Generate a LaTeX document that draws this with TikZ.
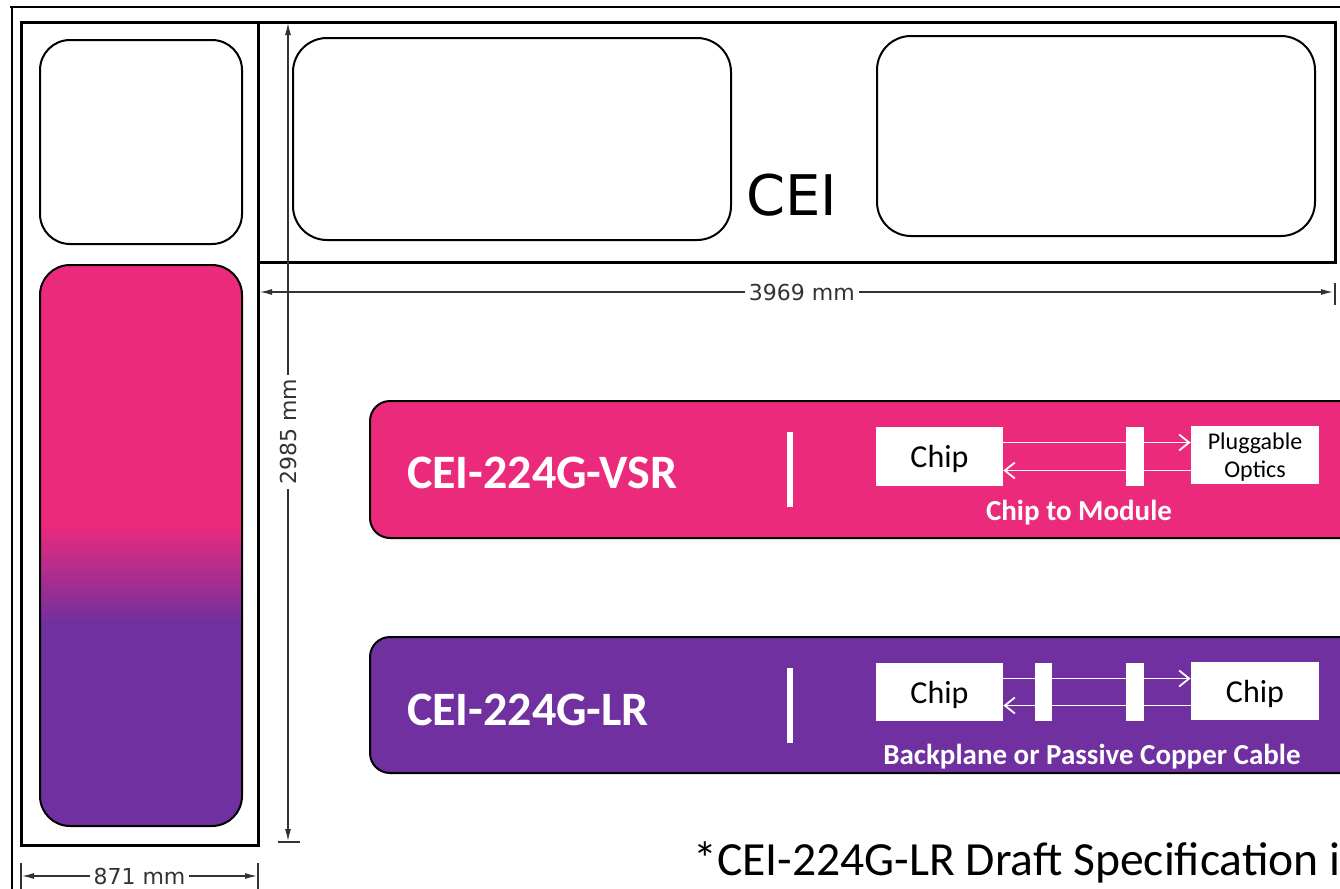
\documentclass[tikz,border=0pt]{standalone}
\usepackage{fontspec}
\setmainfont{Carlito}
\newfontfamily\dimfont{DejaVu Sans}
\usepackage{tikz}
\usetikzlibrary{arrows.meta, positioning, calc}

\definecolor{vsrpink}{RGB}{236,42,123}
\definecolor{lrpurple}{RGB}{112,48,160}
\pgfdeclareverticalshading{cable}{100bp}{color(0bp)=(lrpurple); color(43bp)=(lrpurple); color(52bp)=(vsrpink); color(100bp)=(vsrpink)}

\begin{document}
\begin{tikzpicture}[
  x=0.5pt, y=-0.5pt,
  frame/.style={draw, line width=1.4pt},
  slot/.style={draw, line width=1pt, rounded corners=15pt, fill=white, inner sep=0pt},
  banner/.style={draw, line width=1pt, rounded corners=10pt, minimum width=500pt, inner sep=0pt},
  title/.style={anchor=west, text=white, font=\fontsize{24}{28}\selectfont\bfseries},
  caption/.style={text=white, font=\fontsize{14.5}{17}\selectfont\bfseries},
  divider/.style={fill=white, minimum width=2.8pt, minimum height=37.5pt, inner sep=0pt},
  box/.style={fill=white, minimum width=63.5pt, minimum height=29.5pt, inner sep=0pt, text depth=0pt, font=\fontsize{16}{19}\selectfont},
  bar/.style={fill=white, minimum width=9pt, minimum height=29.5pt, inner sep=0pt},
  sig/.style={white, line width=0.9pt},
  sigarrow/.style={sig, -{Straight Barb[length=5pt, width=8pt, line width=0.9pt]}},
  dim/.style={line width=0.6pt, black!80, {Latex[length=6pt, width=3pt]}-{Latex[length=6pt, width=3pt]}},
  dimtick/.style={line width=0.6pt, black!80},
  dimlabel/.style={fill=white, inner sep=2pt, font=\dimfont\fontsize{11}{13}\selectfont},
]
\useasboundingbox (0,0) rectangle (1340,889);
\clip (0,0) rectangle (1340,889);

%% Frame
\draw[frame] (10,7) -- (1345,7);
\draw[frame] (12,7) -- (12,895);
\node[frame, line width=1.5pt, minimum width=118.5pt, minimum height=411.5pt, inner sep=0pt] (col) at (139.5,433.5) {};
\node[frame, line width=1.5pt, minimum width=538.5pt, minimum height=120pt, inner sep=0pt] (top) at (796.5,142) {};

%% Slots
\node[slot, minimum width=101pt, minimum height=102pt] (slotA) at (141,142) {};
\node[slot, shade, shading=cable, minimum width=101pt, minimum height=280.5pt] (slotB) at (141,545.5) {};
\node[slot, rounded corners=17pt, minimum width=219pt, minimum height=101pt] (slotC) at (512,139) {};
\node[slot, rounded corners=17pt, minimum width=219pt, minimum height=100pt] (slotD) at (1096,136) {};
\node[font=\dimfont\fontsize{28}{32}\selectfont] (cei) at (792,195) {CEI};

%% Dimensions
\coordinate (w1) at (260,292);
\coordinate (w2) at (1333,292);
\draw[dim] (w1) -- (w2) node[dimlabel, pos=0.505] {3969 mm};
\draw[dimtick] (1335,283) -- (1335,305);
\coordinate (h1) at (288,23);
\coordinate (h2) at (288,841);
\draw[dim] (h1) -- (h2) node[dimlabel, rotate=90, pos=0.50] {2985 mm};
\draw[dimtick] (278,842) -- (300,842);
\coordinate (c1) at (22,876);
\coordinate (c2) at (257,876);
\draw[dim] (c1) -- (c2) node[dimlabel, midway] {871 mm};
\draw[dimtick] (21,863) -- (21,892);
\draw[dimtick] (258,863) -- (258,892);

%% CEI-224G-VSR
\node[banner, fill=vsrpink, minimum height=68.5pt] (vsr) at (870,469.5) {};
\node[title] (vsrname) at (400,473) {CEI-224G-VSR};
\node[divider] (vsrdiv) at (790,469.5) {};
\node[box] (chipA) at (939.5,456.5) {Chip};
\node[bar] (barA) at (1135,456.5) {};
\node[box, minimum width=64pt, minimum height=29pt, font=\fontsize{12}{14}\selectfont, align=center] (plugA) at (1255,455) {Pluggable\\Optics};
\node[caption] (vsrcap) at (1079,513) {Chip to Module};
\draw[sig] ([yshift=7pt]chipA.east) -- ([yshift=7pt]barA.west);
\draw[sigarrow] ([yshift=7pt]barA.east) -- ([yshift=7pt]barA.east -| plugA.west);
\draw[sig] ([yshift=-7pt]barA.east -| plugA.west) -- ([yshift=-7pt]barA.east);
\draw[sigarrow] ([yshift=-7pt]barA.west) -- ([yshift=-7pt]chipA.east);

%% CEI-224G-LR
\node[banner, fill=lrpurple, minimum height=68pt] (lr) at (870,705) {};
\node[title] (lrname) at (400,710) {CEI-224G-LR};
\node[divider] (lrdiv) at (790,705.5) {};
\node[box, minimum height=29pt] (chipB) at (939.5,692) {Chip};
\node[bar, minimum width=8.5pt, minimum height=29pt] (barB) at (1043.5,692) {};
\node[bar, minimum height=29pt] (barC) at (1135,692) {};
\node[box, minimum width=64pt, minimum height=29pt] (chipC) at (1255,691) {Chip};
\node[caption] (lrcap) at (1092,757) {Backplane or Passive Copper Cable};
\draw[sig] ([yshift=6.75pt]chipB.east) -- ([yshift=6.75pt]barB.west);
\draw[sig] ([yshift=6.75pt]barB.east) -- ([yshift=6.75pt]barC.west);
\draw[sigarrow] ([yshift=6.75pt]barC.east) -- ([yshift=6.75pt]barC.east -| chipC.west);
\draw[sig] ([yshift=-6.75pt]barC.east -| chipC.west) -- ([yshift=-6.75pt]barC.east);
\draw[sig] ([yshift=-6.75pt]barC.west) -- ([yshift=-6.75pt]barB.east);
\draw[sigarrow] ([yshift=-6.75pt]barB.west) -- ([yshift=-6.75pt]chipB.east);

%% Note
\node[anchor=base west, inner sep=0pt, font=\fontsize{23.8}{28}\selectfont] (note) at (693,875) {*CEI-224G-LR Draft Specification i};

\end{tikzpicture}
\end{document}
